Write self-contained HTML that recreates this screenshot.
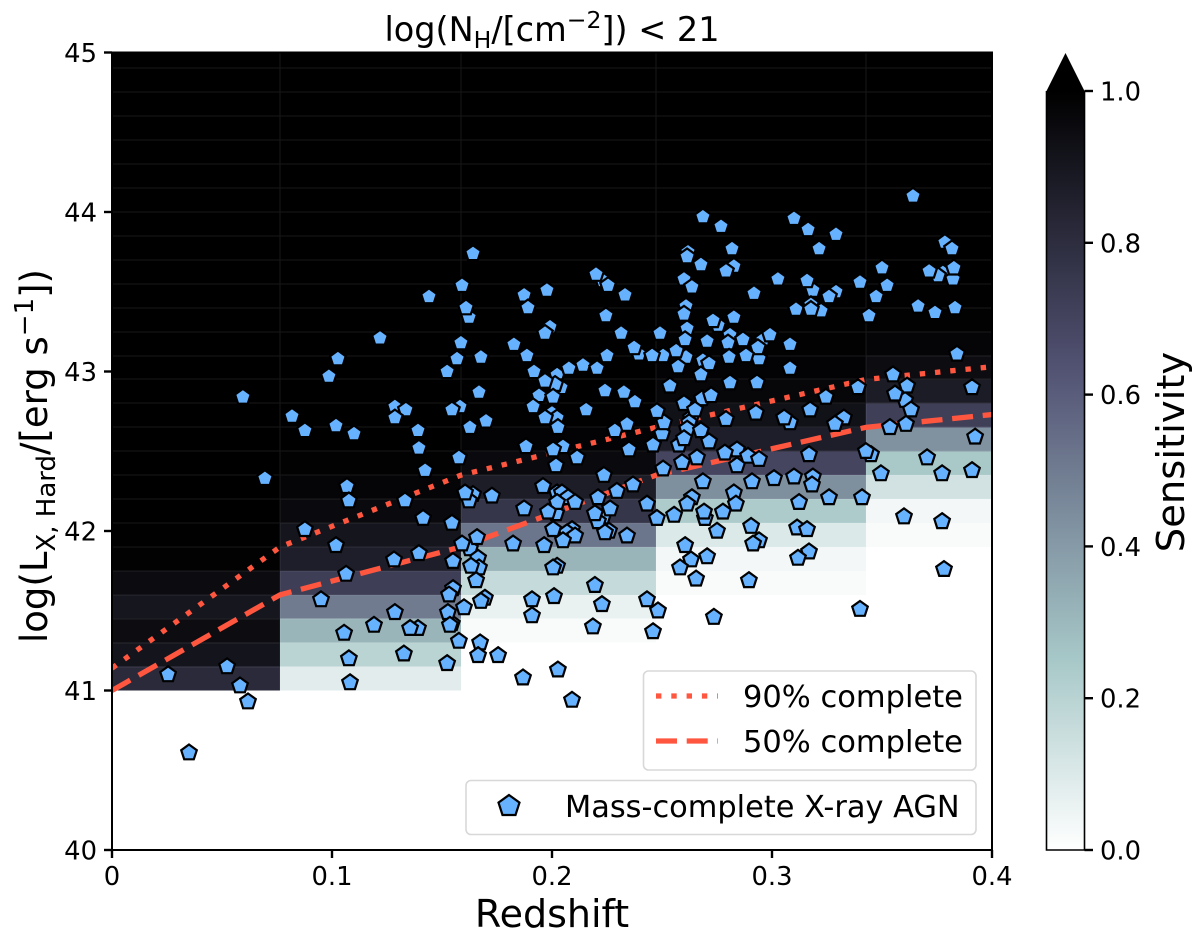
<!DOCTYPE html>
<html lang="en">
<head>
<meta charset="utf-8">
<title>Sensitivity map with mass-complete X-ray AGN</title>
<style>
html,body{margin:0;padding:0;background:#fff;}
svg{display:block;font-family:"DejaVu Sans","Liberation Sans",sans-serif;fill:#000;}
</style>
</head>
<body>
<svg id="chart" xmlns="http://www.w3.org/2000/svg" width="1200" height="938" viewBox="0 0 1200 938">
  <defs>
    <linearGradient id="bone-gradient" x1="0" y1="1" x2="0" y2="0">
      <stop offset="0" stop-color="#ffffff"/>
      <stop offset="0.254" stop-color="#a6c7c7"/>
      <stop offset="0.635" stop-color="#525273"/>
      <stop offset="1" stop-color="#000000"/>
    </linearGradient>
    <clipPath id="plot-clip"><rect x="112" y="52.5" width="880" height="797.5"/></clipPath>
  </defs>

  <text x="552" y="41" text-anchor="middle" font-size="33.5">log(N<tspan dy="7" font-size="23.5">H</tspan><tspan dy="-7">/[cm</tspan><tspan dy="-13" font-size="23.5">−2</tspan><tspan dy="13">]) &lt; 21</tspan></text>

  <g id="heatmap" clip-path="url(#plot-clip)"></g>
  <g id="curves" clip-path="url(#plot-clip)"></g>
  <g id="points"></g>

  <rect x="112" y="52.5" width="880" height="797.5" fill="none" stroke="#000" stroke-width="2"/>
  <g id="x-axis"></g>
  <g id="y-axis"></g>

  <text x="552" y="927" text-anchor="middle" font-size="38">Redshift</text>
  <text transform="translate(47 456) rotate(-90)" text-anchor="middle" font-size="37">log(L<tspan dy="8" font-size="26">X, Hard</tspan><tspan dy="-8">/[erg s</tspan><tspan dy="-14" font-size="26">−1</tspan><tspan dy="14">])</tspan></text>

  <g>
    <rect x="643.5" y="671" width="332.5" height="99" rx="5" fill="#fff" fill-opacity="0.85" stroke="#d8d8d8" stroke-width="1.6"/>
    <line x1="656" y1="696" x2="718" y2="696" stroke="#ff5640" stroke-width="5.3" stroke-dasharray="5.4 9.9"/>
    <text x="743" y="707" font-size="30.5">90% complete</text>
    <line x1="656" y1="741" x2="718" y2="741" stroke="#ff5640" stroke-width="5.3" stroke-dasharray="21 9.7"/>
    <text x="743" y="752" font-size="30.5">50% complete</text>
  </g>
  <g>
    <rect x="466" y="780.5" width="510" height="54" rx="5" fill="#fff" fill-opacity="0.85" stroke="#d8d8d8" stroke-width="1.6"/>
    <polygon points="509,795 519.5,802.6 515.5,815 502.5,815 498.5,802.6" fill="#66b2ff" stroke="#000" stroke-width="2.2"/>
    <text x="565" y="817" font-size="30.4">Mass-complete X-ray AGN</text>
  </g>

  <g>
    <rect x="1046.5" y="91" width="38" height="759" fill="url(#bone-gradient)"/>
    <polygon points="1046.5,91 1065.5,53 1084.5,91" fill="#000"/>
    <path d="M1046.5 91 L1046.5 850 L1084.5 850 L1084.5 91" fill="none" stroke="#000" stroke-width="1.6"/>
    <g id="colorbar-axis"></g>
    <text transform="translate(1184 452) rotate(-90)" text-anchor="middle" font-size="38.5">Sensitivity</text>
  </g>
</svg>

<script>
// Axis tick labels
const xTickValues = [0, 0.1, 0.2, 0.3, 0.4];
const xTickLabels = ["0", "0.1", "0.2", "0.3", "0.4"];
const yTickValues = [40, 41, 42, 43, 44, 45];
const yTickLabels = ["40", "41", "42", "43", "44", "45"];
const cbarTickValues = [0, 0.2, 0.4, 0.6, 0.8, 1.0];
const cbarTickLabels = ["0.0", "0.2", "0.4", "0.6", "0.8", "1.0"];

// Sensitivity grid: redshift bin edges, luminosity bin start/step
const zEdges = [0, 0.0764, 0.1586, 0.2473, 0.3427, 0.4];
const lumStart = 41;
const lumStep = 0.15;
const lumMax = 45;
// Per redshift bin, sensitivity in luminosity bins from 41.0 upward
const sensitivityBin1 = [0.81,0.91,0.945,0.90,0.95,0.99,0.995,0.998,0.998,0.998,0.998,0.998,0.998,0.998,0.998,0.998,0.998,0.998,0.998,0.998,0.998,0.998,0.998,0.998,0.998,0.998,0.998];
const sensitivityBin2 = [0.083,0.198,0.31,0.498,0.722,0.866,0.906,0.955,0.978,0.99,0.998,0.998,0.998,0.998,0.998,0.998,0.998,0.998,0.998,0.998,0.998,0.998,0.998,0.998,0.998,0.998,0.998];
const sensitivityBin3 = [0,0,0.018,0.063,0.166,0.31,0.52,0.758,0.87,0.955,0.985,0.995,0.998,0.998,0.998,0.998,0.998,0.998,0.998,0.998,0.998,0.998,0.998,0.998,0.998,0.998,0.998];
const sensitivityBin4 = [0,0,0,0,0.018,0.034,0.10,0.232,0.435,0.69,0.866,0.924,0.97,0.985,0.99,0.995,0.998,0.998,0.998,0.998,0.998,0.998,0.998,0.998,0.998,0.998,0.998];
const sensitivityBin5 = [0,0,0,0,0,0,0.018,0.035,0.129,0.247,0.426,0.718,0.875,0.945,0.978,0.99,0.995,0.998,0.998,0.998,0.998,0.998,0.998,0.998,0.998,0.998,0.998];

// Completeness curves
const curveZ = [0, 0.0764, 0.1586, 0.2473, 0.3427, 0.4];
const complete90 = [41.14, 41.90, 42.35, 42.65, 42.95, 43.03];
const complete50 = [41.00, 41.60, 41.90, 42.35, 42.65, 42.73];

// AGN sample: redshift and log L_X
const agnRedshift = [
0.1391,0.1623,0.1582,0.1641,0.1623,0.1627,0.1664,0.1668,0.1550,0.1695,
0.1545,0.1991,0.2023,0.2041,0.2014,0.2000,0.2023,0.2023,0.2045,0.2018,
0.2232,0.2209,0.2091,0.2068,0.2259,0.2023,0.2232,0.2255,0.2395,0.2505,
0.2609,0.2614,0.2609,0.2618,0.2827,0.2755,0.2809,0.2959,0.3186,0.3291,
0.3786,0.3777,0.3755,0.3823,0.3223,0.2941,0.2686,0.3605,0.2682,0.3082,
0.3327,0.2632,0.2577,0.2500,0.2841,0.3450,0.3186,0.2636,0.2695,0.2941,
0.3114,0.3177,
0.0255,0.0523,0.0582,0.0618,0.0350,0.0595,0.0695,0.0818,0.0877,0.0877,
0.1018,0.1100,0.1027,0.0986,0.1218,0.1441,0.1286,0.1336,0.1286,0.1391,
0.1395,0.1423,0.1068,0.1077,0.1332,0.1414,0.1018,0.0950,0.1064,0.1282,
0.1395,0.1286,0.1191,0.1355,0.1055,0.1077,0.1327,0.1082,0.1523,0.1545,
0.1577,0.1591,0.1609,0.1641,0.1586,0.1568,0.1523,0.1677,0.1668,0.1545,
0.1627,0.1700,0.1550,0.1605,0.1727,0.1659,0.1591,0.1632,0.1655,0.1532,
0.1677,0.1600,0.1527,0.1536,0.1577,0.1673,0.1664,0.1755,0.1823,0.1873,
0.1873,0.1891,0.1977,0.1827,0.1886,0.1918,0.1968,0.1968,0.2077,0.2141,
0.2205,0.2250,0.1941,0.2005,0.1914,0.1882,0.2050,0.2005,0.1968,0.2027,
0.2114,0.2018,0.2155,0.2241,0.2327,0.2377,0.2286,0.2341,0.2350,0.2459,
0.2236,0.1959,0.2073,0.2105,0.2023,0.1982,0.2209,0.2295,0.2368,0.2264,
0.2432,0.2195,0.2477,0.2005,0.2105,0.2050,0.2241,0.2341,0.1964,0.2005,
0.2195,0.1909,0.2009,0.2432,0.2227,0.2482,0.1909,0.2186,0.2459,0.1868,
0.2027,0.2091,0.2332,0.2200,0.2245,0.2314,0.2373,0.2455,0.2491,0.2564,
0.2573,0.2536,0.2605,0.2600,0.2614,0.2677,0.2600,0.2636,0.2686,0.2768,
0.2818,0.2791,0.2918,0.2732,0.2827,0.2705,0.2800,0.2868,0.2991,0.2936,
0.3082,0.3027,0.3100,0.3164,0.3291,0.3214,0.3159,0.3259,0.3400,0.3523,
0.3473,0.3500,0.3641,0.3818,0.3714,0.3827,0.3664,0.3741,0.3832,0.3441,
0.3109,0.3177,0.3841,0.2805,0.2882,0.2714,0.2677,0.3082,0.2809,0.2932,
0.3550,0.3614,0.3909,0.3391,0.3559,0.3245,0.2723,0.3632,0.2927,0.3173,
0.2791,0.3055,0.3286,0.3536,0.3609,0.3923,0.2600,0.2650,0.2623,0.2614,
0.2600,0.2677,0.2714,0.2509,0.2477,0.2786,0.2891,0.2941,0.2841,0.2505,
0.2591,0.2659,0.3168,0.3427,0.3705,0.3495,0.3773,0.3909,0.2686,0.2909,
0.3009,0.3100,0.3182,0.2827,0.3259,0.3409,0.3123,0.2836,0.2777,0.2614,
0.2555,0.2691,0.2605,0.2632,0.2582,0.2655,0.2705,0.2905,0.2750,0.2914,
0.2895,0.3159,0.3168,0.3118,0.3600,0.3773,0.3782,0.3400,0.2736
];
const agnLogLx = [
41.39,43.34,42.78,42.23,42.19,41.89,41.83,41.77,41.64,41.58,
41.42,43.28,42.98,42.90,42.92,42.74,42.71,42.24,42.24,42.11,
42.09,42.06,42.01,41.99,42.00,41.78,43.57,43.54,43.11,43.10,
43.09,43.27,43.41,43.75,43.66,43.29,43.23,43.20,43.51,43.50,
43.81,43.62,43.60,43.58,43.38,43.08,43.07,42.82,42.83,42.68,
42.71,42.71,42.54,42.61,42.51,42.48,42.34,42.21,42.08,41.94,
42.02,43.42,
41.10,41.15,41.03,40.93,40.61,42.84,42.33,42.72,42.63,42.01,
42.66,42.61,43.08,42.97,43.21,43.47,42.78,42.76,42.71,42.63,
42.52,42.38,42.28,42.19,42.19,42.08,41.91,41.57,41.73,41.82,
41.86,41.49,41.41,41.39,41.36,41.20,41.23,41.05,41.17,42.05,
42.46,43.54,43.40,43.74,43.18,43.08,43.00,43.09,42.87,42.76,
42.65,42.69,41.81,42.24,42.22,41.96,41.92,41.78,41.69,41.60,
41.56,41.52,41.49,41.41,41.31,41.30,41.22,41.22,41.92,42.14,
43.48,43.40,43.51,43.17,43.10,43.00,43.24,42.94,43.02,43.04,
43.02,43.10,42.85,42.84,42.78,42.53,42.53,42.51,42.71,42.65,
42.46,42.41,42.76,42.88,42.87,42.81,42.63,42.67,42.51,42.54,
42.35,42.28,42.21,42.18,42.18,42.12,42.21,42.25,42.29,42.14,
42.17,42.11,42.08,42.01,41.97,41.94,41.99,41.97,41.91,41.77,
41.66,41.57,41.59,41.57,41.54,41.50,41.47,41.40,41.37,41.08,
41.13,40.94,43.48,43.61,43.35,43.24,43.15,43.10,43.24,43.13,
43.03,42.91,43.20,43.36,43.72,43.67,43.58,43.53,43.97,43.91,
43.77,43.63,43.49,43.32,43.34,43.19,43.18,43.20,43.23,43.15,
43.17,43.58,43.96,43.89,43.86,43.77,43.57,43.47,43.56,43.54,
43.47,43.65,44.10,43.77,43.63,43.65,43.41,43.37,43.40,43.35,
43.39,43.39,43.11,43.09,43.10,43.05,42.98,43.02,42.93,42.93,
42.98,42.91,42.90,42.90,42.86,42.84,42.85,42.76,42.74,42.76,
42.70,42.71,42.67,42.65,42.67,42.59,42.80,42.76,42.68,42.64,
42.58,42.63,42.56,42.68,42.75,42.49,42.47,42.45,42.41,42.39,
42.43,42.46,42.48,42.50,42.46,42.36,42.36,42.38,42.31,42.31,
42.33,42.34,42.29,42.24,42.21,42.21,42.18,42.17,42.12,42.17,
42.10,42.12,41.91,41.82,41.77,41.70,41.84,42.03,42.00,41.92,
41.69,42.01,41.87,41.83,42.09,42.06,41.76,41.51,41.46
];

// Axis functions
const xScale = z => 112 + (z - 0) / 0.4 * 880;
const yScale = l => 850 - (l - 40) * 159.5;
const cbarScale = v => 850 - v * 759;

const NS = 'http://www.w3.org/2000/svg';
function make(tag, parent, attrs) {
  const el = document.createElementNS(NS, tag);
  for (const k in attrs) el.setAttribute(k, attrs[k]);
  parent.appendChild(el);
  return el;
}

// bone_r colormap
function interp(stops, v) {
  for (let i = 1; i < stops.length; i++) {
    if (v <= stops[i][0]) {
      const a = stops[i - 1], b = stops[i];
      return a[1] + (b[1] - a[1]) * (v - a[0]) / (b[0] - a[0]);
    }
  }
  return stops[stops.length - 1][1];
}
function boneR(s) {
  const v = 1 - s;
  const r = interp([[0,0],[0.746032,0.652778],[1,1]], v);
  const g = interp([[0,0],[0.365079,0.319444],[0.746032,0.777778],[1,1]], v);
  const b = interp([[0,0],[0.365079,0.444444],[1,1]], v);
  return 'rgb(' + Math.round(r*255) + ',' + Math.round(g*255) + ',' + Math.round(b*255) + ')';
}

// Heatmap cells
const heatmap = document.getElementById('heatmap');
const sensitivityBins = [sensitivityBin1, sensitivityBin2, sensitivityBin3, sensitivityBin4, sensitivityBin5];
let seams = '';
sensitivityBins.forEach((bin, c) => {
  const x0 = xScale(zEdges[c]), x1 = xScale(zEdges[c + 1]);
  bin.forEach((s, r) => {
    if (s <= 0) return;
    const lo = lumStart + r * lumStep;
    const hi = Math.min(lo + lumStep, lumMax);
    const y0 = yScale(hi), y1 = yScale(lo);
    const cell = make('rect', heatmap, {x: x0, y: y0, width: x1 - x0, height: y1 - y0, fill: boneR(s), 'shape-rendering': 'crispEdges'});
    
    
    if (hi < lumMax) seams += 'M' + x0 + ' ' + Math.round(y0) + 'H' + x1;
    if (c > 0) seams += 'M' + Math.round(x0) + ' ' + y0 + 'V' + y1;
  });
});
const seamPath = make('path', heatmap, {d: seams, fill: 'none', stroke: '#fff', 'stroke-opacity': 0.08, 'stroke-width': 1.2});



// Completeness curves
const curves = document.getElementById('curves');
const linePoints = ys => curveZ.map((z, i) => xScale(z) + ',' + yScale(ys[i])).join(' ');
const line90 = make('polyline', curves, {points: linePoints(complete90), fill: 'none', stroke: '#ff5640', 'stroke-width': 5.3, 'stroke-dasharray': '5.4 9.9'});


const line50 = make('polyline', curves, {points: linePoints(complete50), fill: 'none', stroke: '#ff5640', 'stroke-width': 5.3, 'stroke-dasharray': '21 9.7'});



// Scatter markers
const pointsGroup = document.getElementById('points');
const R = 8.2;
agnRedshift.forEach((z, i) => {
  const cx = xScale(z), cy = yScale(agnLogLx[i]);
  let pts = '';
  for (let k = 0; k < 5; k++) {
    const a = -Math.PI / 2 + k * 2 * Math.PI / 5;
    pts += (cx + R * Math.cos(a)).toFixed(1) + ',' + (cy + R * Math.sin(a)).toFixed(1) + ' ';
  }
  const p = make('polygon', pointsGroup, {points: pts, fill: '#66b2ff', stroke: '#000', 'stroke-width': 2.2});
  
  
});

// Axes
const xAxis = document.getElementById('x-axis');
xTickValues.forEach((v, i) => {
  const x = xScale(v);
  const t = make('line', xAxis, {x1: x, x2: x, y1: 850, y2: 858, stroke: '#000', 'stroke-width': 2.4});
  
  
  const l = make('text', xAxis, {x: x, y: 885, 'text-anchor': 'middle', 'font-size': 25.8});
  
  
  l.textContent = xTickLabels[i];
});
const yAxis = document.getElementById('y-axis');
yTickValues.forEach((v, i) => {
  const y = yScale(v);
  const t = make('line', yAxis, {x1: 104, x2: 112, y1: y, y2: y, stroke: '#000', 'stroke-width': 2.4});
  
  
  const l = make('text', yAxis, {x: 97, y: y + 9.5, 'text-anchor': 'end', 'font-size': 25.8});
  
  
  l.textContent = yTickLabels[i];
});
const cbarAxis = document.getElementById('colorbar-axis');
cbarTickValues.forEach((v, i) => {
  const y = cbarScale(v);
  const t = make('line', cbarAxis, {x1: 1084.5, x2: 1093, y1: y, y2: y, stroke: '#000', 'stroke-width': 2.4});
  
  
  const l = make('text', cbarAxis, {x: 1100, y: y + 9.5, 'font-size': 25.8});
  
  
  l.textContent = cbarTickLabels[i];
});
</script>
</body>
</html>
